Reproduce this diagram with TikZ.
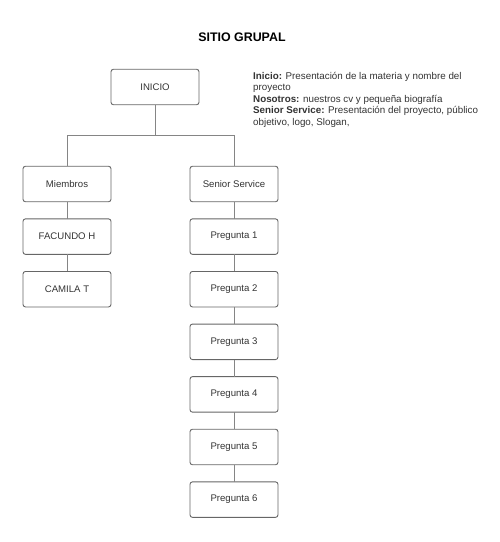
\documentclass[tikz,border=0pt]{standalone}
\usepackage{fontspec}
\setmainfont{Liberation Sans}
\usepackage{tikz}
\usetikzlibrary{chains,positioning}
\definecolor{linegray}{HTML}{666666}
\definecolor{joingray}{HTML}{858585}
\definecolor{txtgray}{HTML}{333333}

\begin{document}
\begin{tikzpicture}[x=1pt,y=-1pt,
node distance=17.1pt,
    B/.style = {rectangle, draw=linegray, line width=0.9pt,% boxes of the site map
                rounded corners=2.5pt, text=txtgray,
                minimum width=88pt, minimum height=35.5pt,
                font=\fontsize{9.6}{11}\selectfont, outer sep=0pt},
    L/.style = {draw=joingray, line width=0.9pt},
                        ]
\useasboundingbox (0,0) rectangle (500,542);
% title and notes
\node (title) at (242,37) {\fontsize{12.4}{14}\selectfont\bfseries SITIO GRUPAL};
\node[anchor=north west, inner sep=0pt, align=left, text=txtgray,
      font=\fontsize{9.8}{11.5}\selectfont] (notes) at (253,72)
     {\textbf{Inicio:} Presentación de la materia y nombre del\\
      proyecto\\
      \textbf{Nosotros:} nuestros cv y pequeña biografía\\
      \textbf{Senior Service:} Presentación del proyecto, público\\
      objetivo, logo, Slogan,};
% root
\node[B] (I) at (155,87) {INICIO};
\coordinate (fork) at (155,135);
% left column
\begin{scope}[start chain = M going below]
\node[B, on chain] at (67,184) {Miembros};
\foreach \i in {FACUNDO H,CAMILA T}% <-- content of nodes
    \node[B, on chain] {\i};
\end{scope}
% right column
\begin{scope}[start chain = S going below]
\node[B, on chain] at (234,184) {Senior Service};
\foreach \i in {1,...,6}% <-- content of nodes
    \node[B, on chain] {Pregunta \i};
\end{scope}
% connectors
\draw[L] (I.south) -- (fork);
\draw[L] (fork) -| (M-1.north);
\draw[L] (fork) -| (S-1.north);
\foreach \a/\b in {1/2,2/3}
    \draw[L] (M-\a.south) -- (M-\b.north);
\foreach \a/\b in {1/2,2/3,3/4,4/5,5/6,6/7}
    \draw[L] (S-\a.south) -- (S-\b.north);
\end{tikzpicture}
\end{document}
